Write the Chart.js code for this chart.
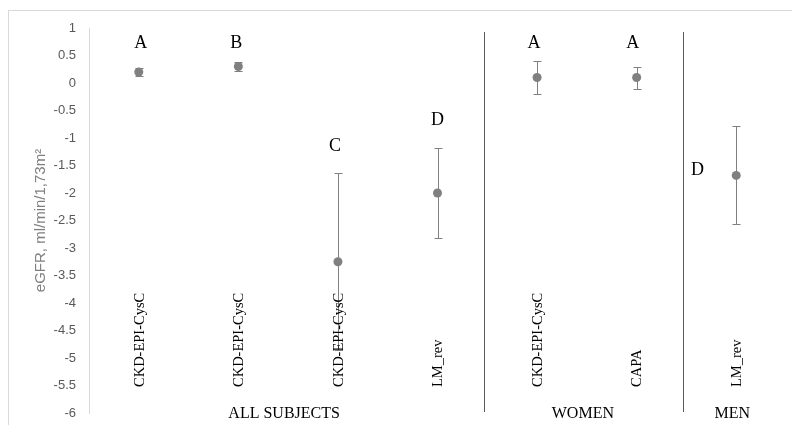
<!DOCTYPE html>
<html><head><meta charset="utf-8">
<script src="https://cdn.jsdelivr.net/npm/chart.js@4"></script>
<style>body{margin:0;background:#fff;overflow:hidden}canvas{display:block}</style>
</head><body><canvas id="c" width="792" height="425"></canvas>
<script>
const methods = ['CKD-EPI-CysC','CKD-EPI-CysC','CKD-EPI-CysC','LM_rev','CKD-EPI-CysC','CAPA','LM_rev']
const groups = ['ALL SUBJECTS','WOMEN','MEN']
const groupSpan = [[0,3],[4,5],[6,6]]
const means = [0.2, 0.3, -3.25, -2.0, 0.1, 0.1, -1.68]
const errLow = [0.12, 0.22, -4.86, -2.82, -0.2, -0.1, -2.57]
const errHigh = [0.28, 0.38, -1.64, -1.18, 0.4, 0.3, -0.79]
const letters = ['A','B','C','D','A','A','D']

// where the letters sit: [shift in categories, y value]
const letterAt = [[0.02,0.73],[-0.02,0.73],[-0.03,-1.15],[0,-0.67],[-0.03,0.73],[-0.04,0.73],[-0.39,-1.58]]

const serif = 'Liberation Serif'

const extras = {
	id: 'extras',
	beforeDraw: ch => {
		const c = ch.ctx
		c.save(); c.strokeStyle = '#d9d9d9'; c.lineWidth = 1
		c.strokeRect(8.5, 10.5, 900, 600)
		c.restore()
	},
	beforeDatasetsDraw: ch => {
		const c = ch.ctx, x = ch.scales.x, y = ch.scales.y
		c.save()
		// error bars
		c.strokeStyle = '#808080'; c.lineWidth = 1
		means.forEach((m, i) => {
			const px = Math.round(x.getPixelForValue(i)) + 0.5
			const lo = Math.round(y.getPixelForValue(errLow[i])) + 0.5, hi = Math.round(y.getPixelForValue(errHigh[i])) + 0.5
			c.beginPath()
			c.moveTo(px, lo); c.lineTo(px, hi)
			c.moveTo(px-4, lo); c.lineTo(px+4, lo)
			c.moveTo(px-4, hi); c.lineTo(px+4, hi)
			c.stroke()
		})
		// group separators
		c.strokeStyle = '#595959'
		groupSpan.slice(1).forEach(g => {
			const px = Math.round(x.getPixelForValue(g[0] - 0.5)) - 2.5
			c.beginPath(); c.moveTo(px, 32); c.lineTo(px, 412); c.stroke()
		})
		// method labels, rotated
		c.fillStyle = '#000'; c.font = `14.5px "${serif}"`
		c.textAlign = 'left'; c.textBaseline = 'middle'
		methods.forEach((t, i) => {
			c.save(); c.translate(x.getPixelForValue(i) + 1, 387); c.rotate(-Math.PI/2)
			c.fillText(t, 0, 0); c.restore()
		})
		// group labels
		c.font = `16px "${serif}"`
		c.textAlign = 'center'; c.textBaseline = 'alphabetic'
		groups.forEach((t, i) => {
			const g = groupSpan[i]
			c.fillText(t, (x.getPixelForValue(g[0] - 0.5) + x.getPixelForValue(g[1] + 0.5)) / 2 - 4, 418)
		})
		// letters
		c.font = `18px "${serif}"`; c.textBaseline = 'middle'
		letters.forEach((t, i) => {
			c.fillText(t, x.getPixelForValue(i + letterAt[i][0]), y.getPixelForValue(letterAt[i][1]))
		})
		c.restore()
	}
}

new Chart(document.getElementById('c'), {
	type: 'line',
	data: {
		labels: methods,
		datasets: [{
			data: means,
			showLine: false,
			pointRadius: 4.5,
			pointBackgroundColor: '#808080',
			pointBorderColor: '#808080',
			pointBorderWidth: 0,
		}]
	},
	options: {
		animation: false,
		responsive: false,
		layout: { padding: { left: 0, top: 28, right: 6, bottom: 12 } },
		plugins: { legend: { display: false }, tooltip: { enabled: false } },
		scales: {
			x: { type: 'category', offset: true, display: false },
			y: {
				min: -6, max: 1,
				// fixed axis width, and no extra room for the end labels
				afterFit: s => { s.width = 89; s.paddingTop = 0; s.paddingBottom = 0 },
				grid: { display: false, drawTicks: false },
				border: { display: true, color: '#d9d9d9' },
				ticks: {
					stepSize: 0.5, padding: 13, color: '#595959',
					font: { family: 'Liberation Sans', size: 13 },
					callback: v => String(+v.toFixed(1))
				},
				title: { display: true, text: 'eGFR, ml/min/1,73m²', color: '#808080', padding: { top: 32, bottom: 0 }, font: { family: 'Liberation Sans', size: 15 } }
			}
		}
	},
	plugins: [extras]
})
</script>
</body></html>
